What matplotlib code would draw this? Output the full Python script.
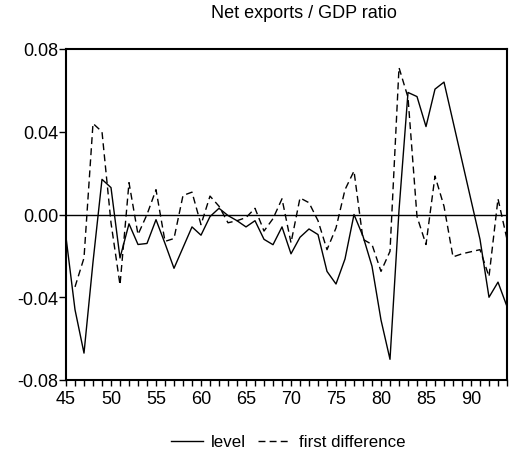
import numpy as np
import matplotlib.pyplot as plt
from matplotlib.ticker import MultipleLocator

plt.rcParams['font.family'] = ['Liberation Sans', 'DejaVu Sans']

# Net exports / GDP ratio, 1945-1994
years = list(range(45, 95))
level = [-0.011, -0.046, -0.067, -0.023, 0.017, 0.013, -0.021, -0.0045, -0.0145, -0.014,
         -0.0025, -0.014, -0.026, -0.016, -0.006, -0.010, -0.001, 0.003, -0.0005, -0.003,
         -0.006, -0.003, -0.012, -0.0146, -0.006, -0.019, -0.011, -0.007, -0.0097, -0.0275,
         -0.0336, -0.0215, 0.0, -0.0105, -0.025, -0.051, -0.070, 0.002, 0.059, 0.057,
         0.0425, 0.0606, 0.064, 0.045, 0.026, 0.007, -0.012, -0.040, -0.0327, -0.0445]
# first difference starts in 46
diff_years = list(range(46, 95))
first_diff = [-0.035, -0.021, 0.044, 0.040, -0.004, -0.034, 0.0154, -0.0097, 0.0, 0.012,
              -0.013, -0.0116, 0.0092, 0.0108, -0.0049, 0.0089, 0.004, -0.004, -0.003, -0.0015,
              0.003, -0.008, -0.002, 0.0076, -0.0137, 0.008, 0.0057, -0.003, -0.017, -0.0065,
              0.012, 0.021, -0.012, -0.0145, -0.0275, -0.0178, 0.071, 0.0566, -0.001, -0.0145,
              0.0186, 0.004, -0.0205, -0.019, -0.018, -0.017, -0.030, 0.0076, -0.012]
y_ticks = [-0.08, -0.04, 0.00, 0.04, 0.08]
x_ticks = [45, 50, 55, 60, 65, 70, 75, 80, 85, 90]

fig = plt.figure(figsize=(5.09, 4.56), dpi=100)
ax = fig.add_axes([66/509, 1-381/456, (507-66)/509, 331/456])

ax.axhline(0, color='black', lw=1.0)
l1, = ax.plot(years, level, color='black', lw=1.0, label='level')
l2, = ax.plot(diff_years, first_diff, color='black', lw=1.0,
              linestyle=(0, (5, 3)), label='first difference')

ax.set_xlim(45, 94)
ax.set_ylim(-0.08, 0.08)
ax.set_yticks(y_ticks)
ax.set_yticklabels(['%.2f' % v for v in y_ticks])
ax.set_xticks(x_ticks)
ax.xaxis.set_minor_locator(MultipleLocator(1))
ax.tick_params(axis='x', which='both', direction='out', length=4.3, width=1,
               labelsize=13, pad=3)
ax.tick_params(axis='y', which='both', direction='out', length=5, width=1,
               labelsize=13, pad=0.5)
for s in ax.spines.values():
    s.set_linewidth(1.5)

fig.text(304/509, 1-13/456, 'Net exports / GDP ratio', fontsize=13,
         ha='center', va='center')

fig.legend(handles=[l1, l2], loc='center', bbox_to_anchor=(288/509, 1-443/456),
           ncol=2, frameon=False, fontsize=12.2, handlelength=1.9,
           columnspacing=0.7, handletextpad=0.5)

fig.savefig('out.png', dpi=100)
